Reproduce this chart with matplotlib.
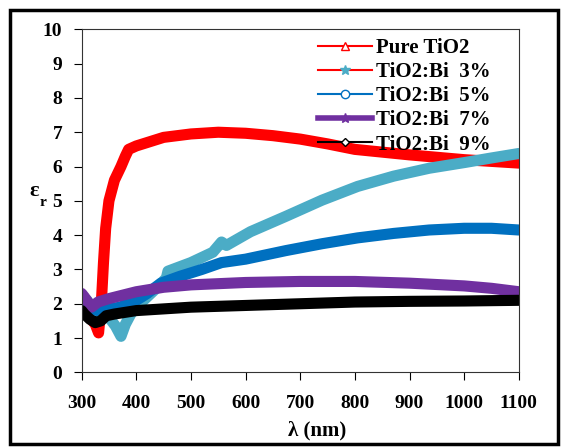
import matplotlib
matplotlib.use("Agg")
import matplotlib.pyplot as plt
from matplotlib.lines import Line2D
from matplotlib.patches import Rectangle

plt.rcParams['font.family'] = ['Liberation Serif', 'DejaVu Serif']
plt.rcParams['font.weight'] = 'bold'

# data (wavelength nm, epsilon_r)
lam_pure = [300, 315, 325, 331, 336, 340, 344, 350, 360, 372, 380, 386, 400, 450, 500, 550,
            600, 650, 700, 750, 800, 850, 900, 950, 1000, 1050, 1100]
eps_pure = [1.85, 1.6, 1.4, 1.15, 2.0, 3.2, 4.2, 5.0, 5.6, 6.0, 6.3, 6.5, 6.6, 6.85, 6.95, 7.0,
            6.97, 6.9, 6.8, 6.66, 6.5, 6.42, 6.34, 6.27, 6.2, 6.15, 6.1]

lam_bi3 = [300, 310, 320, 335, 350, 362, 372, 380, 390, 400, 420, 440, 455, 458, 500, 540,
           556, 565, 609, 674, 740, 805, 871, 936, 1002, 1050, 1100]
eps_bi3 = [2.0, 2.1, 1.85, 1.7, 1.6, 1.35, 1.05, 1.4, 1.7, 1.9, 2.2, 2.5, 2.75, 2.95, 3.2, 3.5,
           3.8, 3.7, 4.1, 4.55, 5.02, 5.42, 5.72, 5.95, 6.12, 6.25, 6.38]

lam_bi5 = [300, 315, 330, 350, 370, 400, 420, 445, 480, 520, 556, 600, 674, 740, 805, 871,
           936, 1000, 1050, 1100]
eps_bi5 = [2.0, 1.85, 1.8, 1.85, 1.9, 2.1, 2.3, 2.6, 2.8, 3.0, 3.2, 3.3, 3.55, 3.75, 3.92, 4.05,
           4.15, 4.2, 4.2, 4.15]

lam_bi7 = [300, 305, 318, 330, 350, 400, 450, 500, 600, 700, 800, 900, 1000, 1050, 1100]
eps_bi7 = [2.3, 2.2, 1.9, 2.05, 2.15, 2.35, 2.48, 2.55, 2.62, 2.65, 2.65, 2.6, 2.52, 2.45, 2.35]

lam_bi9 = [300, 305, 315, 325, 335, 345, 360, 380, 400, 450, 500, 600, 700, 800, 900, 1000, 1100]
eps_bi9 = [1.8, 1.7, 1.55, 1.45, 1.5, 1.65, 1.7, 1.75, 1.8, 1.85, 1.9, 1.95, 2.0, 2.05, 2.07,
           2.08, 2.1]

labels = ['Pure TiO2', 'TiO2:Bi  3%', 'TiO2:Bi  5%', 'TiO2:Bi  7%', 'TiO2:Bi  9%']
x_ticks = [300, 400, 500, 600, 700, 800, 900, 1000, 1100]

c_red = '#FF0000'
c_cyan = '#4BACC6'
c_blue = '#0070C0'
c_purple = '#7030A0'
c_black = '#000000'

fig = plt.figure(figsize=(5.61, 4.47), dpi=100)
ax = fig.add_axes([0.1455, 0.167, 0.7793, 0.7674])

lw = 8
for lam, eps, col in [(lam_pure, eps_pure, c_red), (lam_bi3, eps_bi3, c_cyan),
                      (lam_bi5, eps_bi5, c_blue), (lam_bi7, eps_bi7, c_purple),
                      (lam_bi9, eps_bi9, c_black)]:
    ax.plot(lam, eps, color=col, lw=lw, solid_capstyle='round', solid_joinstyle='round')

ax.set_xlim(300, 1100)
ax.set_ylim(0, 10)
ax.set_xticks(x_ticks)
ax.set_yticks(range(0, 11))
ax.tick_params(direction='out', length=6, width=0.8, labelsize=14, pad=8)
ax.tick_params(axis='x', pad=10)
for s in ax.spines.values():
    s.set_linewidth(0.8)
    s.set_color('#333333')

# legend handles (as in the source chart: 3% entry keeps a red line)
handles = [
    Line2D([], [], color=c_red, lw=1.5, marker='^', mfc='white', mec=c_red, ms=6),
    Line2D([], [], color=c_red, lw=1.5, marker='*', mfc=c_cyan, mec=c_cyan, ms=7),
    Line2D([], [], color=c_blue, lw=1.5, marker='o', mfc='white', mec=c_blue, ms=6),
    Line2D([], [], color=c_purple, lw=4, marker='*', mfc=c_purple, mec=c_purple, ms=7),
    Line2D([], [], color=c_black, lw=1.5, marker='D', mfc='white', mec=c_black, ms=4),
]
ax.legend(handles, labels, loc='upper left', bbox_to_anchor=(0.54, 0.975), frameon=False,
          handlelength=2.6, handletextpad=0.2, labelspacing=0.2,
          borderaxespad=0, borderpad=0, prop={'weight': 'bold', 'size': 15})

# axis titles
fig.text(317 / 561, 1 - 430 / 447, 'λ (nm)', ha='center', va='center', fontsize=15, fontweight='bold')
fig.text(34 / 561, 1 - 191 / 447, 'ε', ha='center', va='center', fontsize=16, fontweight='bold')
fig.text(43 / 561, 1 - 203 / 447, 'r', ha='center', va='center', fontsize=11, fontweight='bold')

# outer frame
fig.patches.append(Rectangle((10 / 561, 3 / 447), 548 / 561, 434 / 447, transform=fig.transFigure,
                             fill=False, edgecolor='black', linewidth=2.5))

fig.savefig('out.png', dpi=100)
